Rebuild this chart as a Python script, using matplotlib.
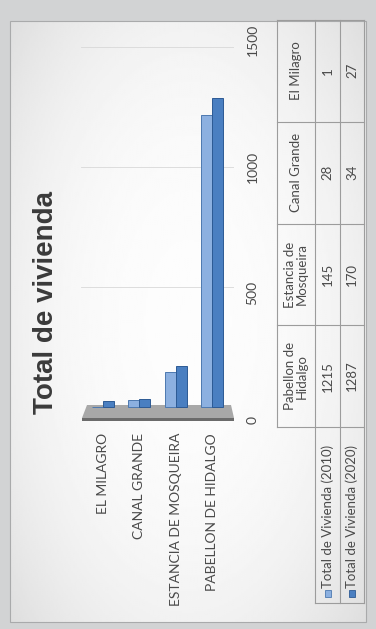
import numpy as np
import matplotlib
matplotlib.use("Agg")
import matplotlib.pyplot as plt
from matplotlib.patches import Polygon, Rectangle

# ---------------- data ----------------
categories = ["Pabellon de Hidalgo", "Estancia de Mosqueira", "Canal Grande", "El Milagro"]
axis_labels = ["PABELLON DE HIDALGO", "ESTANCIA DE MOSQUEIRA", "CANAL GRANDE", "EL MILAGRO"]
table_headers = ["Pabellon de\nHidalgo", "Estancia de\nMosqueira", "Canal Grande", "El Milagro"]
series_names = ["Total de Vivienda (2010)", "Total de Vivienda (2020)"]
vivienda_2010 = [1215, 145, 28, 1]
vivienda_2020 = [1287, 170, 34, 27]
value_ticks = [0, 500, 1000, 1500]
title = "Total de vivienda"

# ---------------- style ----------------
c2010, e2010 = "#8cb0e0", "#4d79b0"
c2020, e2020 = "#4a7fc1", "#2d5a94"
txt = "#4a4a4a"
W, H = 376, 629

fig = plt.figure(figsize=(W / 100, H / 100), dpi=100)
fig.patch.set_facecolor("#d2d3d4")

def fx(x):
    return x / W

def fy(y):
    return 1 - y / H

# background / decoration axes in pixel coordinates
bg = fig.add_axes([0, 0, 1, 1], zorder=0)
bg.set_xlim(0, W)
bg.set_ylim(H, 0)
bg.axis("off")

x0, x1, y0, y1 = 10, 366, 21, 622
gx = np.linspace(-1, 1, 200)
gy = np.linspace(-1, 1, 300)
GX, GY = np.meshgrid(gx, gy)
R = np.sqrt((GX * 1.0) ** 2 + (GY * 0.9) ** 2) / 1.35
grad = 0.99 - 0.12 * np.clip(R, 0, 1) ** 2.5
bg.imshow(grad, cmap="gray", vmin=0, vmax=1, extent=(x0, x1, y1, y0),
          aspect="auto", interpolation="bilinear", zorder=0)
bg.add_patch(Rectangle((x0, y0), x1 - x0, y1 - y0, fill=False,
                       edgecolor="#a9aaab", lw=0.8, zorder=1))

# 3D floor
bg.add_patch(Polygon([(87, 405), (231, 405), (234, 418), (82, 418)],
                     closed=True, facecolor="#a8a8a8", edgecolor="none", zorder=2))
bg.add_patch(Polygon([(82, 418), (234, 418), (234, 421), (82, 421)],
                     closed=True, facecolor="#6b6b6b", edgecolor="none", zorder=2))

# title
bg.text(46, 302, title, rotation=90, ha="center", va="center", fontsize=20,
        fontweight="bold", family="Liberation Sans", color="#3a3a3a", zorder=3)

# ---------------- bars ----------------
n = len(categories)
pos = np.array([n - 1 - i for i in range(n)], dtype=float)
bw = 0.30
ax = fig.add_axes([fx(81), fy(422), (234 - 81) / W, (422 - 40) / H], zorder=1)
ax.patch.set_alpha(0)
ax.bar(pos - bw / 2, vivienda_2010, width=bw, color=c2010, edgecolor=e2010, lw=0.7, zorder=3)
ax.bar(pos + bw / 2, vivienda_2020, width=bw, color=c2020, edgecolor=e2020, lw=0.7, zorder=3)
ax.set_xlim(-0.6, 3.6)
ax.set_ylim(-62.5, 1529)
ax.set_yticks(value_ticks[1:])
ax.set_yticklabels([])
ax.grid(axis="y", color="#d8d8d8", lw=0.6)
ax.set_axisbelow(True)
ax.set_xticks(pos)
ax.set_xticklabels(axis_labels, rotation=90, fontsize=10, family="Lato", color=txt)
ax.tick_params(axis="x", length=0, pad=8)
ax.tick_params(axis="y", length=0)
for s in ax.spines.values():
    s.set_visible(False)

ax2 = ax.twinx()
ax2.set_ylim(-8, 1500)
ax2.set_yticks(value_ticks)
ax2.set_yticklabels([str(v) for v in value_ticks], rotation=90, fontsize=10,
                    family="Lato", color=txt, va="center")
ax2.tick_params(axis="y", length=0, pad=9)
for s in ax2.spines.values():
    s.set_visible(False)

# ---------------- data table ----------------
lc, lw = "#9c9c9c", 0.8
tx0, tx1, tx2, tx3 = 277, 315, 340, 364
ttop, thead, tbot = 20, 427, 603
cell_h = (thead - ttop) / n

def hline(y, xa, xb):
    bg.plot([xa, xb], [y, y], color=lc, lw=lw, zorder=3)

def vline(x, ya, yb):
    bg.plot([x, x], [ya, yb], color=lc, lw=lw, zorder=3)

vline(tx0, ttop, thead)
for xx in (tx1, tx2, tx3):
    vline(xx, ttop, tbot)
for k in range(n + 1):
    hline(ttop + k * cell_h, tx0, tx3)
hline(tbot, tx1, tx3)

for i in range(n):
    cy = thead - (i + 0.5) * cell_h
    bg.text((tx0 + tx1) / 2, cy, table_headers[i], rotation=90, ha="center", va="center",
            fontsize=9.5, family="Lato", color=txt, multialignment="center",
            linespacing=1.0, zorder=4)
    bg.text((tx1 + tx2) / 2, cy, str(vivienda_2010[i]), rotation=90, ha="center",
            va="center", fontsize=9.5, family="Lato", color=txt, zorder=4)
    bg.text((tx2 + tx3) / 2, cy, str(vivienda_2020[i]), rotation=90, ha="center",
            va="center", fontsize=9.5, family="Lato", color=txt, zorder=4)

for (xa, xb), name, fc, ec in [((tx1, tx2), series_names[0], c2010, e2010),
                               ((tx2, tx3), series_names[1], c2020, e2020)]:
    cx = (xa + xb) / 2
    bg.add_patch(Rectangle((cx - 3, tbot - 13), 6, 7, facecolor=fc, edgecolor=ec,
                           lw=0.6, zorder=4))
    bg.text(cx, tbot - 15, name, rotation=90, ha="center", va="bottom",
            fontsize=9.5, family="Lato", color=txt, zorder=4)

fig.savefig("out.png", dpi=100, facecolor=fig.get_facecolor())
